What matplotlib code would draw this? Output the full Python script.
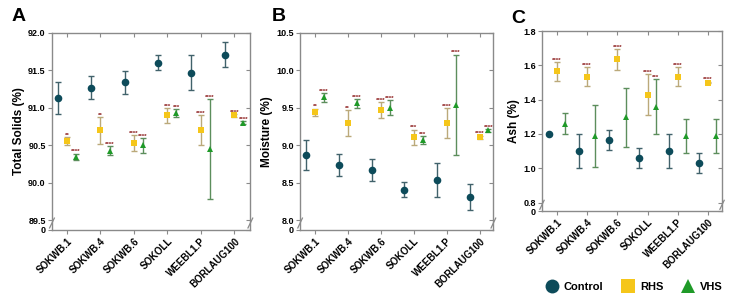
import matplotlib
matplotlib.use("Agg")
import matplotlib.pyplot as plt
from matplotlib.lines import Line2D

plt.rcParams["font.family"] = ["Liberation Sans", "DejaVu Sans"]
plt.rcParams["font.weight"] = "bold"

categories = ["SOKWB.1", "SOKWB.4", "SOKWB.6", "SOKOLL", "WEEBL1.P", "BORLAUG100"]

# A: total solids (%)
ts_control = [91.13, 91.27, 91.34, 91.60, 91.47, 91.71]
ts_control_err = [0.21, 0.15, 0.15, 0.10, 0.23, 0.17]
ts_rhs = [90.56, 90.70, 90.53, 90.90, 90.70, 90.90]
ts_rhs_err = [0.05, 0.18, 0.11, 0.10, 0.20, 0.02]
ts_vhs = [90.35, 90.43, 90.50, 90.93, 90.45, 90.80]
ts_vhs_err = [0.04, 0.06, 0.10, 0.05, 0.67, 0.02]
ts_rhs_sig = ["**", "**", "****", "***", "****", "****"]
ts_vhs_sig = ["****", "****", "****", "***", "****", "****"]

# B: moisture (%)
mo_control = [8.87, 8.74, 8.67, 8.41, 8.54, 8.31]
mo_control_err = [0.20, 0.15, 0.15, 0.10, 0.23, 0.17]
mo_rhs = [9.44, 9.30, 9.47, 9.11, 9.30, 9.11]
mo_rhs_err = [0.05, 0.17, 0.11, 0.10, 0.20, 0.02]
mo_vhs = [9.64, 9.56, 9.50, 9.07, 9.54, 9.20]
mo_vhs_err = [0.06, 0.06, 0.10, 0.05, 0.67, 0.02]
mo_rhs_sig = ["**", "**", "****", "***", "****", "****"]
mo_vhs_sig = ["****", "****", "****", "***", "****", "****"]

# C: ash (%)
ash_control = [1.20, 1.10, 1.165, 1.06, 1.10, 1.03]
ash_control_err = [0.005, 0.10, 0.06, 0.06, 0.10, 0.06]
ash_rhs = [1.565, 1.535, 1.635, 1.43, 1.535, 1.50]
ash_rhs_err = [0.055, 0.055, 0.06, 0.117, 0.055, 0.005]
ash_vhs = [1.26, 1.19, 1.296, 1.36, 1.19, 1.19]
ash_vhs_err = [0.06, 0.18, 0.17, 0.16, 0.10, 0.10]
ash_rhs_sig = ["****", "****", "****", "****", "****", "****"]
ash_vhs_sig = ["", "", "", "***", "", ""]

CTRL_C, CTRL_E = "#0d4b5a", "#41626b"
RHS_C, RHS_E = "#f5c61a", "#bba97a"
VHS_C, VHS_E = "#1f9a28", "#5c8e5c"
STAR_C = "#8b1a1a"
SPINE_C = "#8a8a8a"

fig = plt.figure(figsize=(7.32, 2.99), dpi=100)


def panel(rect, ylim, yticks, ylabel, letter, letter_xy, xlim,
          ctrl, ctrl_err, rhs, rhs_err, vhs, vhs_err, rhs_sig, vhs_sig):
    ax = fig.add_axes(rect)
    x = list(range(len(categories)))
    off = [-0.28, 0.0, 0.27]
    series = [(ctrl, ctrl_err, "o", CTRL_C, CTRL_E, 5.5, None),
              (rhs, rhs_err, "s", RHS_C, RHS_E, 5.0, rhs_sig),
              (vhs, vhs_err, "^", VHS_C, VHS_E, 5.0, vhs_sig)]
    for (vals, errs, mk, fc, ec, ms, sig), o in zip(series, off):
        xs = [xi + o for xi in x]
        ax.errorbar(xs, vals, yerr=errs, fmt="none", ecolor=ec, elinewidth=1.0,
                    capsize=2.5, capthick=1.0, zorder=2)
        ax.plot(xs, vals, linestyle="none", marker=mk, color=fc, ms=ms,
                markeredgewidth=0, zorder=3)
        if sig:
            for xi, v, e, s in zip(xs, vals, errs, sig):
                if s:
                    ax.annotate(s, (xi, v + e), xytext=(0, -0.5),
                                textcoords="offset points", ha="center",
                                va="bottom", fontsize=4.5, color=STAR_C)
    ax.set_xlim(*xlim)
    ax.set_ylim(*ylim)
    ax.set_xticks(x)
    ax.set_xticklabels(categories, rotation=45, ha="right",
                       rotation_mode="anchor", fontsize=7, fontweight="bold")
    ticks = [ylim[0]] + yticks
    ax.set_yticks(ticks)
    ax.set_yticklabels(["0"] + [f"{t:.1f}" for t in yticks], fontsize=6.5,
                       fontweight="bold")
    ax.tick_params(axis="both", direction="out", length=3, width=0.8,
                   color=SPINE_C, pad=1.5, top=True, right=True)
    # inner ticks on top/right
    for t in ax.xaxis.get_major_ticks():
        t.tick2line.set_marker(3)
    for t in ax.yaxis.get_major_ticks():
        t.tick2line.set_marker(0)
    for sp in ax.spines.values():
        sp.set_color(SPINE_C)
        sp.set_linewidth(1.0)
    ax.set_ylabel(ylabel, fontsize=8.5, fontweight="bold", labelpad=2)
    # axis break marks
    for bx, by in [(0.0, 0.035), (1.0, 0.035)]:
        ax.plot([bx - 0.012, bx + 0.012], [by - 0.025, by + 0.025],
                transform=ax.transAxes, color=SPINE_C, lw=0.9, clip_on=False)
    fig.text(letter_xy[0], letter_xy[1], letter, fontsize=14, fontweight="bold")
    return ax


panel([0.071, 0.231, 0.271, 0.659], (89.373, 92.0), [89.5, 90.0, 90.5, 91.0, 91.5, 92.0],
      "Total Solids (%)", "A", (0.016, 0.93), (-0.45, 5.48),
      ts_control, ts_control_err, ts_rhs, ts_rhs_err, ts_vhs, ts_vhs_err,
      ts_rhs_sig, ts_vhs_sig)
panel([0.410, 0.231, 0.264, 0.659], (7.873, 10.5), [8.0, 8.5, 9.0, 9.5, 10.0, 10.5],
      "Moisture (%)", "B", (0.371, 0.93), (-0.45, 5.42),
      mo_control, mo_control_err, mo_rhs, mo_rhs_err, mo_vhs, mo_vhs_err,
      mo_rhs_sig, mo_vhs_sig)
panel([0.7404, 0.294, 0.246, 0.602], (0.75, 1.8), [0.8, 1.0, 1.2, 1.4, 1.6, 1.8],
      "Ash (%)", "C", (0.699, 0.922), (-0.5, 5.47),
      ash_control, ash_control_err, ash_rhs, ash_rhs_err, ash_vhs, ash_vhs_err,
      ash_rhs_sig, ash_vhs_sig)

handles = [Line2D([], [], ls="none", marker="o", color=CTRL_C, ms=10, mew=0),
           Line2D([], [], ls="none", marker="s", color=RHS_C, ms=10, mew=0),
           Line2D([], [], ls="none", marker="^", color=VHS_C, ms=10, mew=0)]
fig.legend(handles, ["Control", "RHS", "VHS"], loc="center",
           bbox_to_anchor=(0.866, 0.04), ncol=3, frameon=False,
           prop={"size": 8, "weight": "bold"}, handletextpad=0.5,
           columnspacing=1.6, handlelength=1.2)

fig.savefig("out.png", dpi=100)
